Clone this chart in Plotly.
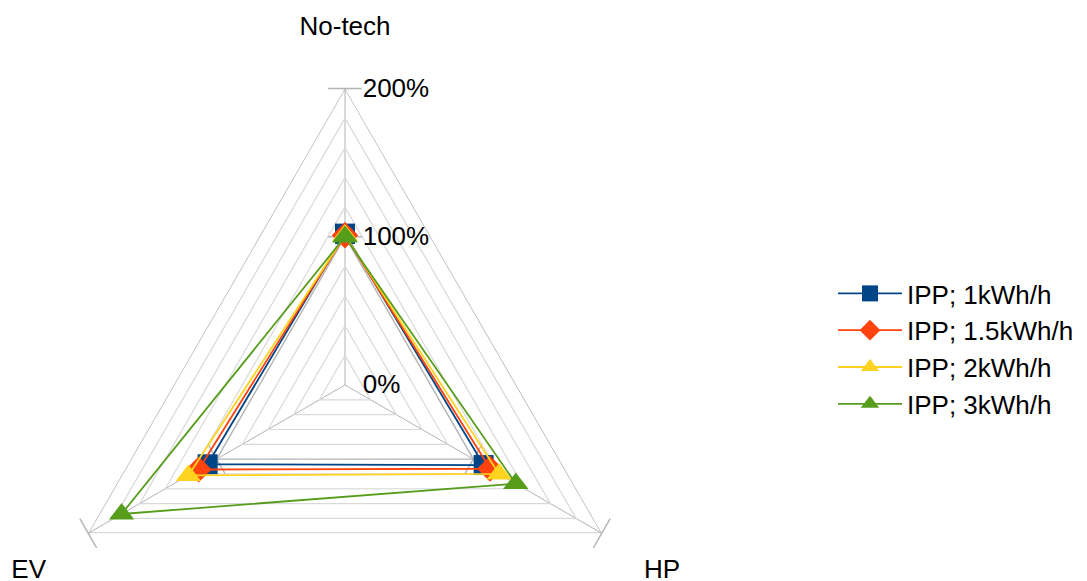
import plotly.graph_objects as go

categories = ["No-tech", "HP", "EV"]
series_names = ["IPP; 1kWh/h", "IPP; 1.5kWh/h", "IPP; 2kWh/h", "IPP; 3kWh/h"]
ipp_1 = [102, 108, 107]
ipp_1_5 = [101, 113, 114]
ipp_2 = [101, 120, 122]
ipp_3 = [100, 133, 174]
series_values = [ipp_1, ipp_1_5, ipp_2, ipp_3]
colors = ["#004586", "#ff420e", "#ffd320", "#579d1c"]
symbols = ["square", "diamond", "triangle-up", "triangle-up"]
sizes = [20, 20, 22, 22]

radial_tickvals = [0, 100, 200]
radial_ticktext = ["0%", "100%", "200%"]
grid_levels = [20, 40, 60, 80, 100, 120, 140, 160, 180, 200]
tick_mark_angles = {"No-tech": 0, "HP": 120, "EV": 60}

FONT = "Liberation Sans"
theta_closed = categories + [categories[0]]

# page body has an 8px margin; layout is expressed in figure pixels
W, H = 1087, 674
CX, CY, R = 337.0, 377.0, 296.5

fig = go.Figure()

# grid rings
for lv in grid_levels:
    major = lv % 100 == 0
    fig.add_trace(go.Scatterpolar(
        r=[lv] * 4, theta=theta_closed, mode="lines",
        line=dict(color="#b3b3b3" if major else "#d9d9d9", width=1.4 if major else 1.2),
        hoverinfo="skip", showlegend=False, cliponaxis=False))

# cross tick marks on each axis at the major values
tick_r = [v for v in radial_tickvals for _ in categories]
tick_theta = categories * len(radial_tickvals)
fig.add_trace(go.Scatterpolar(
    r=tick_r, theta=tick_theta, mode="markers",
    marker=dict(symbol="line-ew", size=24, angle=[tick_mark_angles[t] for t in tick_theta],
                line=dict(color="#b3b3b3", width=1.4)),
    hoverinfo="skip", showlegend=False, cliponaxis=False))

for name, vals, c, s, sz in zip(series_names, series_values, colors, symbols, sizes):
    fig.add_trace(go.Scatterpolar(
        r=vals + [vals[0]], theta=theta_closed, name=name,
        mode="lines+markers",
        line=dict(color=c, width=1.8),
        marker=dict(symbol=s, size=sz, color=c),
        cliponaxis=False))

fig.update_layout(
    width=W, height=H,
    margin=dict(l=0, r=0, t=0, b=0),
    paper_bgcolor="white",
    font=dict(family=FONT, size=26, color="#000000"),
    polar=dict(
        domain=dict(x=[(CX - R) / W, (CX + R) / W],
                    y=[(H - (CY + R)) / H, (H - (CY - R)) / H]),
        gridshape="linear",
        bgcolor="rgba(0,0,0,0)",
        angularaxis=dict(
            type="category", categoryarray=categories,
            rotation=90, direction="clockwise",
            showline=False, showgrid=True, gridcolor="#b3b3b3", gridwidth=1.4,
            ticks="outside", ticklen=43, tickcolor="rgba(0,0,0,0)",
            tickfont=dict(family=FONT, size=26, color="#000000"),
        ),
        radialaxis=dict(
            range=[0, 200], angle=90, tickangle=90,
            tickvals=radial_tickvals, ticktext=radial_ticktext,
            showgrid=False, showline=False,
            ticks="outside", ticklen=12, tickcolor="rgba(0,0,0,0)",
            tickfont=dict(family=FONT, size=26, color="#000000"),
        ),
    ),
    legend=dict(
        x=825 / W, y=1 - 341 / H, xanchor="left", yanchor="middle",
        font=dict(family=FONT, size=26, color="#000000"),
        bgcolor="rgba(0,0,0,0)", tracegroupgap=0, itemwidth=64,
    ),
)

fig.write_html("out.html")
